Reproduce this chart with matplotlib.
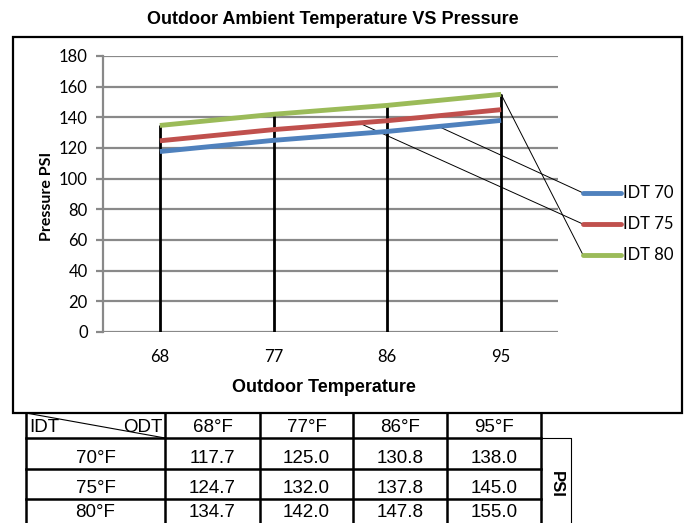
import numpy as np
import matplotlib
matplotlib.use("Agg")
import matplotlib.pyplot as plt
from matplotlib.patches import Rectangle, ConnectionPatch
from matplotlib.lines import Line2D


ODT = [68, 77, 86, 95]
IDT = [70, 75, 80]
PSI_70 = [117.7, 125.0, 130.8, 138.0]
PSI_75 = [124.7, 132.0, 137.8, 145.0]
PSI_80 = [134.7, 142.0, 147.8, 155.0]
SERIES = [PSI_70, PSI_75, PSI_80]
LABELS = ["IDT 70", "IDT 75", "IDT 80"]
COLORS = ["#4F81BD", "#C0504D", "#9BBB59"]

W, H = 686, 523
GRID = "#898989"
TABLE_FONT = ["Liberation Sans", "DejaVu Sans"]
TICK_FONT = ["Lato", "DejaVu Sans"]
BOLD_FONT = ["Liberation Sans", "DejaVu Sans"]


def px(x, y):
    # pixel position (from top-left) -> figure fraction
    return x / W, 1 - y / H


fig = plt.figure(figsize=(W / 100, H / 100), dpi=100)

# chart frame
fig.add_artist(Rectangle(px(13, 413), 669 / W, 376 / H, transform=fig.transFigure,
                         fill=False, edgecolor="black", linewidth=1.6))

ax = fig.add_axes([103 / W, 1 - 332 / H, 455 / W, 276 / H])
x = np.arange(len(ODT))

ax.set_xlim(-0.5, len(ODT) - 0.5)
ax.set_ylim(0, 180)
ax.set_yticks(range(0, 181, 20))
ax.set_xticks(x)
ax.set_xticklabels([str(v) for v in ODT], family=TICK_FONT, fontsize=12)
for lab in ax.get_yticklabels():
    lab.set_family(TICK_FONT)
    lab.set_fontsize(12)
ax.grid(True, axis="y", color=GRID, linewidth=1.6)
ax.set_axisbelow(True)
for s in ["top", "right", "bottom"]:
    ax.spines[s].set_visible(False)
ax.spines["left"].set_color(GRID)
ax.spines["left"].set_linewidth(1.6)
ax.tick_params(axis="y", length=5, width=1.6, color=GRID, pad=6)
ax.tick_params(axis="x", length=0, pad=12)

# drop lines to the highest series
tops = np.max(np.array(SERIES), axis=0)
ax.vlines(x, 0, tops, color="black", linewidth=2, zorder=2)

for vals, c in zip(SERIES, COLORS):
    ax.plot(x, vals, color=c, linewidth=3.5, solid_capstyle="butt", zorder=3)

# legend on the right with leader lines back to the series
leg_y = [0.504, 0.391, 0.279]
leader_x = [2.45, 1.75, 3.0]
for vals, c, lab, ly, lx in zip(SERIES, COLORS, LABELS, leg_y, leader_x):
    ax.add_line(Line2D([1.055, 1.138], [ly, ly], transform=ax.transAxes, color=c,
                       linewidth=3.5, solid_capstyle="round", clip_on=False))
    ax.text(1.143, ly, lab, transform=ax.transAxes, va="center", ha="left",
            family=TICK_FONT, fontsize=12)
    con = ConnectionPatch(xyA=(lx, np.interp(lx, x, vals)), coordsA="data",
                          xyB=(1.055, ly), coordsB="axes fraction",
                          axesA=ax, axesB=ax, color="black", linewidth=0.7)
    ax.add_artist(con)

fig.text(*px(333, 20), "Outdoor Ambient Temperature VS Pressure", ha="center", va="center",
         family=BOLD_FONT, fontsize=13, fontweight="bold")
fig.text(*px(324, 388), "Outdoor Temperature", ha="center", va="center",
         family=BOLD_FONT, fontsize=13, fontweight="bold")
fig.text(*px(47, 196), "Pressure PSI", ha="center", va="center", rotation=90,
         family=TICK_FONT, fontsize=11.5, fontweight="bold")

# table under the chart, drawn in pixel coordinates
tb = fig.add_axes([0, 0, 1, 1], zorder=5)
tb.set_xlim(0, W)
tb.set_ylim(H, 0)
tb.axis("off")

col_edges = [26, 165, 260, 353, 447, 541]
row_edges = [413, 438, 469, 499, 523]
lw = 1.8
for cx in col_edges:
    tb.plot([cx, cx], [413, H], color="black", linewidth=lw)
for ry in row_edges[1:-1]:
    tb.plot([col_edges[0], col_edges[-1]], [ry, ry], color="black", linewidth=lw)
tb.plot([26, 165], [413, 438], color="black", linewidth=0.8)
tb.plot([541, 571, 571], [438, 438, H], color="black", linewidth=0.8)

fs = 13.5
tb.text(29, 432, "IDT", ha="left", va="baseline", family=TABLE_FONT, fontsize=fs)
tb.text(163, 432, "ODT", ha="right", va="baseline", family=TABLE_FONT, fontsize=fs)
for i, t in enumerate(ODT):
    cx = (col_edges[i + 1] + col_edges[i + 2]) / 2
    tb.text(cx, 432, f"{t}°F", ha="center", va="baseline", family=TABLE_FONT, fontsize=fs)

for r, (idt, vals) in enumerate(zip(IDT, SERIES)):
    base = min(row_edges[r + 2] - 6, H - 5)
    tb.text((col_edges[0] + col_edges[1]) / 2, base, f"{idt}°F", ha="center", va="baseline",
            family=TABLE_FONT, fontsize=fs)
    for i, v in enumerate(vals):
        cx = (col_edges[i + 1] + col_edges[i + 2]) / 2
        tb.text(cx, base, f"{v:.1f}", ha="center", va="baseline", family=TABLE_FONT, fontsize=fs)

tb.text(556, 484, "PSI", ha="center", va="center", rotation=-90,
        family=BOLD_FONT, fontsize=12, fontweight="bold")

fig.savefig("out.png", dpi=100)
